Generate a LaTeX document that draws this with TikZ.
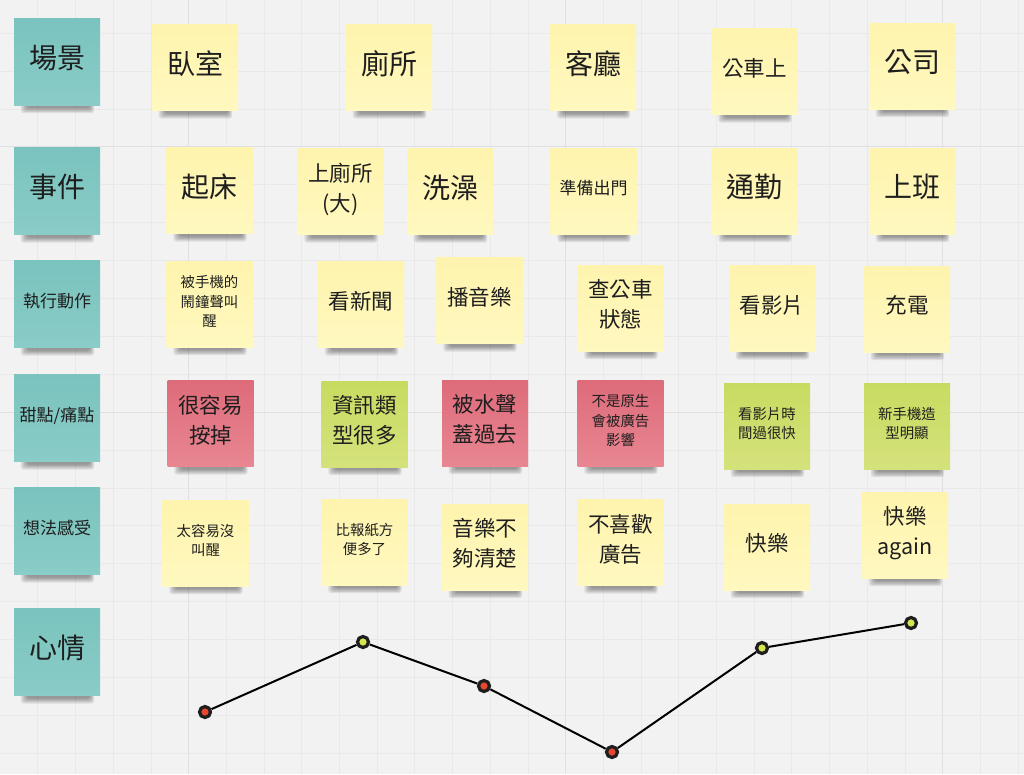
\documentclass[tikz,border=0pt]{standalone}
\usepackage{fontspec}
\newfontfamily\cjk{Noto Sans CJK TC}
\usetikzlibrary{calc}
\definecolor{bgc}{HTML}{F2F2F2}
\definecolor{gridc}{HTML}{E9E9E9}
\definecolor{gridm}{HTML}{E0E0E0}
\definecolor{txt}{HTML}{1E1E1E}
\definecolor{yelT}{HTML}{FEF4AE}
\definecolor{yelB}{HTML}{FFF8BF}
\definecolor{tealT}{HTML}{7AC3BE}
\definecolor{tealB}{HTML}{8ACCC7}
\definecolor{redT}{HTML}{DE6B7A}
\definecolor{redB}{HTML}{E88692}
\definecolor{grnT}{HTML}{C8DB60}
\definecolor{grnB}{HTML}{D5E27C}
\definecolor{dotr}{HTML}{E8472E}
\definecolor{dotg}{HTML}{D6E650}
\definecolor{dotb}{HTML}{1E1E1E}
\pgfdeclarelayer{gridlayer}
\pgfdeclarelayer{shadowlayer}
\pgfsetlayers{gridlayer,shadowlayer,main}
\begin{document}
\begin{tikzpicture}[x=1pt,y=-1pt,
  note/.style={minimum width=86pt, minimum height=86pt, inner sep=0pt, align=center, text=txt},
  yel/.style={note, top color=yelT, bottom color=yelB},
  teal/.style={note, minimum height=87pt, top color=tealT, bottom color=tealB},
  redn/.style={note, top color=redT, bottom color=redB},
  grn/.style={note, top color=grnT, bottom color=grnB},
  big/.style={font=\cjk\fontsize{28}{34}\selectfont, text depth=10pt},
  mid/.style={font=\cjk\fontsize{21.5}{30}\selectfont, text depth=9pt},
  sml/.style={font=\cjk\fontsize{14.4}{19.5}\selectfont, text depth=6pt},
  lbl/.style={font=\cjk\fontsize{17}{20}\selectfont, text depth=8pt},
  dot/.style={circle, minimum size=11pt, inner sep=0pt, draw=dotb, line width=3.2pt},
  reddot/.style={dot, fill=dotr},
  grndot/.style={dot, fill=dotg},
  moodline/.style={draw=black, line width=2pt}
]
\useasboundingbox (0,0) rectangle (1024,774);

% row headers
\node[teal, big] (h1) at (57,61.5) {場景};
\node[teal, big] (h2) at (57,191) {事件};
\node[teal, lbl] (h3) at (57,304) {執行動作};
\node[teal, lbl] (h4) at (57,418) {甜點/痛點};
\node[teal, lbl] (h5) at (57,531) {想法感受};
\node[teal, big] (h6) at (57,652) {心情};

% scenes
\node[yel, big] (s1) at (195,67.5) {臥室};
\node[yel, big] (s2) at (389,67.5) {廁所};
\node[yel, big] (s3) at (593,67.5) {客廳};
\node[yel, mid] (s4) at (754.5,71.5) {公車上};
\node[yel, big] (s5) at (912,66) {公司};

% events
\node[yel, big] (e1) at (209.5,190.5) {起床};
\node[yel, mid] (e2) at (340.5,191.5) {上廁所\\(大)};
\node[yel, big] (e3) at (450,191.5) {洗澡};
\node[yel, lbl] (e4) at (593.5,191) {準備出門};
\node[yel, big] (e5) at (754.5,191) {通勤};
\node[yel, big] (e6) at (912,191) {上班};

% actions
\node[yel, sml] (a1) at (209.5,304) {被手機的\\鬧鐘聲叫\\醒};
\node[yel, mid] (a2) at (361,304.5) {看新聞};
\node[yel, mid] (a3) at (479.5,300.5) {播音樂};
\node[yel, mid] (a4) at (620.5,308) {查公車\\狀態};
\node[yel, mid] (a5) at (772,308.5) {看影片};
\node[yel, mid] (a6) at (907,309) {充電};

% pains / gains
\node[redn, mid] (p1) at (210.5,423.5) {很容易\\按掉};
\node[grn, mid] (p2) at (364.5,424) {資訊類\\型很多};
\node[redn, mid] (p3) at (485,423) {被水聲\\蓋過去};
\node[redn, sml] (p4) at (620.5,423) {不是原生\\會被廣告\\影響};
\node[grn, sml] (p5) at (767,426) {看影片時\\間過很快};
\node[grn, sml] (p6) at (907,426) {新手機造\\型明顯};

% feelings
\node[yel, sml] (f1) at (205.5,543) {太容易沒\\叫醒};
\node[yel, sml] (f2) at (364.5,542) {比報紙方\\便多了};
\node[yel, mid] (f3) at (485,547) {音樂不\\夠清楚};
\node[yel, mid] (f4) at (620.5,542.5) {不喜歡\\廣告};
\node[yel, mid] (f5) at (767,547) {快樂};
\node[yel, mid] (f6) at (905,535) {快樂\\again};

% mood line
\node[reddot] (m1) at (205,712) {};
\node[grndot] (m2) at (363,642) {};
\node[reddot] (m3) at (484,686) {};
\node[reddot] (m4) at (612,752) {};
\node[grndot] (m5) at (762,648) {};
\node[grndot] (m6) at (911,623) {};
\draw[moodline] (m1) -- (m2);
\draw[moodline] (m2) -- (m3);
\draw[moodline] (m3) -- (m4);
\draw[moodline] (m4) -- (m5);
\draw[moodline] (m5) -- (m6);

% shadows
\begin{pgfonlayer}{shadowlayer}
\foreach \n in {h1,h2,h3,h4,h5,h6,s1,s2,s3,s4,s5,e1,e2,e3,e4,e5,e6,a1,a2,a3,a4,a5,a6,p1,p2,p3,p4,p5,p6,f1,f2,f3,f4,f5,f6} {
  \foreach \i in {0,...,4} {
    \fill[black, opacity=0.085, rounded corners=3pt]
      ($(\n.south west)+(7+1.5*\i,-4)$) rectangle ($(\n.south east)+(-6-\i,{8-1.3*\i})$);
  }
}
\end{pgfonlayer}

% grid background
\begin{pgfonlayer}{gridlayer}
\fill[bgc] (0,0) rectangle (1024,774);
\foreach \k in {1,...,27} \draw[gridc, line width=0.6pt] ({37.7*\k},0) -- ({37.7*\k},774);
\foreach \k in {0,...,19} \draw[gridc, line width=0.6pt] (0,{33+37.9*\k}) -- (1024,{33+37.9*\k});
\foreach \xx in {188.5,565.5,942.5} \draw[gridm, line width=0.8pt] (\xx,0) -- (\xx,774);
\foreach \yy in {146.7,412.3} \draw[gridm, line width=0.8pt] (0,\yy) -- (1024,\yy);
\end{pgfonlayer}
\end{tikzpicture}
\end{document}
